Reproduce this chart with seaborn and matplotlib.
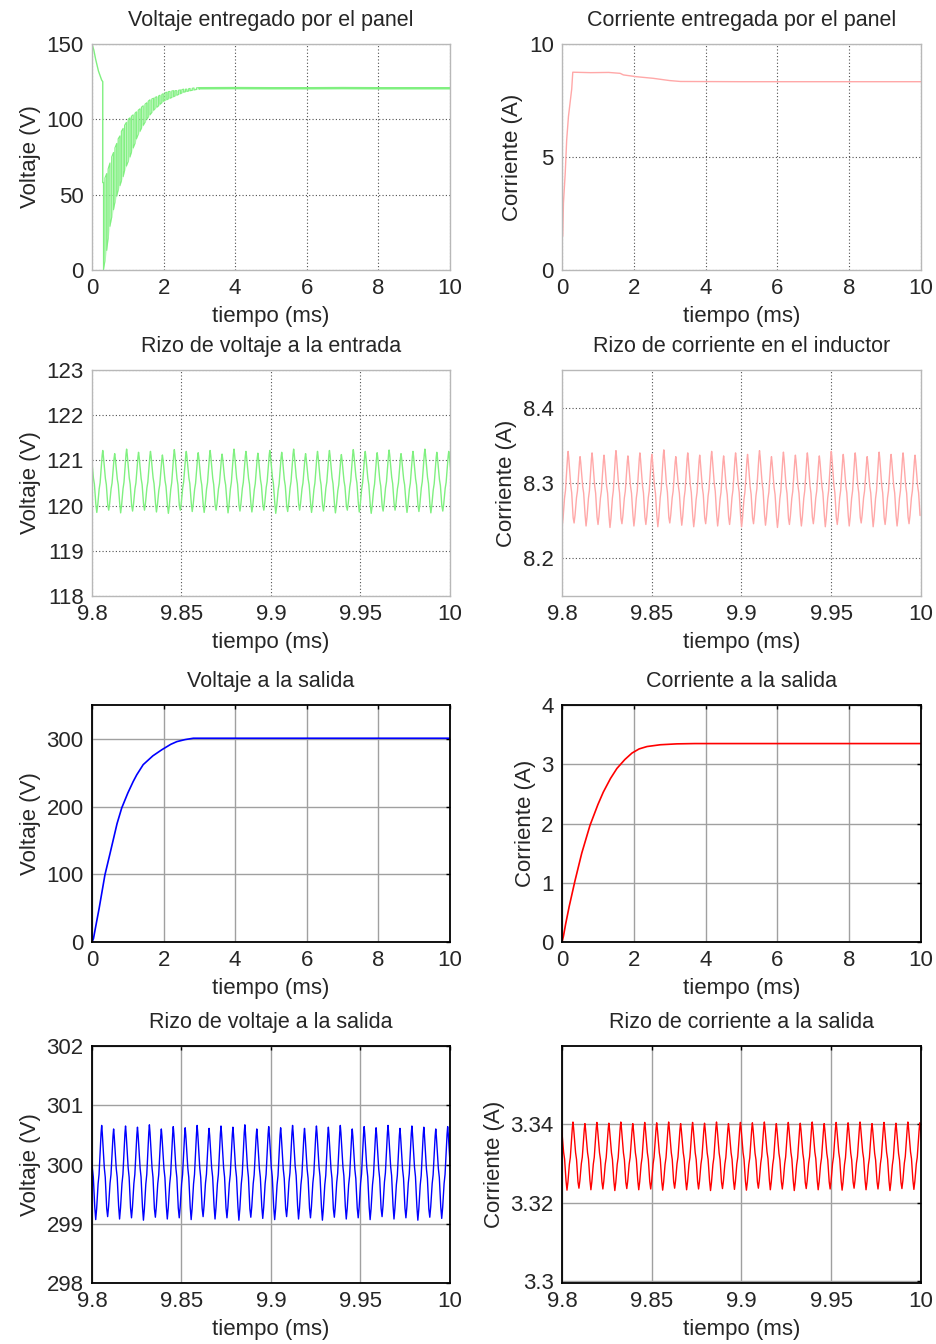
import numpy as np
import matplotlib
matplotlib.use("Agg")
import matplotlib.pyplot as plt
import seaborn as sns

# %% data (time in ms)
# panel voltage, start-up before switching kicks in
pv_start_t = [0.0, 0.0, 0.05, 0.1, 0.18, 0.27, 0.3, 0.3, 0.32]
pv_start_v = [0, 150, 146, 140, 132, 126, 125, 58, 58]
# envelope of the switching transient (upper / lower)
pv_env_t = [0.32, 0.36, 0.41, 0.45, 0.50, 0.55, 0.60, 0.64, 0.69, 0.73, 0.78, 0.82, 0.87, 0.91, 0.96, 1.01,
            1.06, 1.10, 1.15, 1.20, 1.24, 1.29, 1.34, 1.38, 1.43, 1.48, 1.53, 1.57, 1.62, 1.67, 1.72, 1.76,
            1.81, 1.86, 1.90, 1.95, 1.99, 2.04, 2.09, 2.13, 2.18, 2.23, 2.28, 2.32, 2.37, 2.42, 2.47, 2.51,
            2.56, 2.61, 2.65, 2.70, 2.74, 2.80, 2.85, 2.92, 3.0]
pv_env_hi = [58, 61, 64, 67, 71, 75, 78, 81, 84, 87, 89, 92, 94, 96, 98, 100,
             101, 102, 103, 104, 105, 106, 107, 108, 109, 110, 111, 112, 113, 113.5, 114, 114.5,
             115, 115.5, 116, 116.5, 117, 117.5, 118, 118.3, 118.5, 118.8, 119, 119, 119, 119.3, 119.5, 119.7,
             120, 120, 120, 120.3, 120.5, 120.6, 120.8, 120.9, 121]
pv_env_lo = [0, 6, 13, 21, 29, 35, 40, 45, 49, 53, 56, 59, 62, 66, 69, 72,
             75, 78, 81, 84, 87, 90, 92, 94, 96, 98, 100, 101.5, 103, 104.5, 106, 107,
             108, 109, 110, 111, 112, 112.5, 113, 113.5, 114, 114.5, 115, 115.5, 116, 116.5, 117, 117.5,
             118, 118.3, 118.5, 118.8, 119, 119.2, 119.5, 119.8, 120]
pv_steady_t = [3.0, 4.0, 5.0, 6.0, 7.0, 8.0, 9.0, 10.0]
pv_steady_v = [120.6, 120.7, 120.6, 120.6, 120.7, 120.6, 120.6, 120.6]

# panel current
pi_t = [0.0, 0.0, 0.02, 0.04, 0.09, 0.13, 0.18, 0.27, 0.3, 0.8, 1.3, 1.62, 1.71, 2.08, 2.54, 3.0, 3.3, 5.0, 7.0, 10.0]
pi_v = [0.0, 1.5, 1.5, 2.96, 4.3, 5.75, 6.8, 8.0, 8.75, 8.73, 8.74, 8.7, 8.63, 8.55, 8.48, 8.38, 8.34, 8.33, 8.33, 8.33]

# output voltage
vo_t = [0.0, 0.04, 0.1, 0.2, 0.36, 0.5, 0.7, 0.83, 1.0, 1.15, 1.25, 1.43, 1.7, 1.95, 2.2, 2.37, 2.6, 2.83, 3.5, 5.0, 7.0, 10.0]
vo_v = [0, 5, 22, 50, 99, 130, 175, 198, 220, 237, 247, 262, 275, 284, 292, 296, 299, 301, 301, 301, 301, 301]

# output current
io_t = [0.0, 0.04, 0.1, 0.2, 0.36, 0.55, 0.78, 1.0, 1.15, 1.35, 1.53, 1.75, 1.95, 2.15, 2.37, 2.74, 3.2, 3.7, 5.0, 7.0, 10.0]
io_v = [0.0, 0.1, 0.3, 0.6, 1.03, 1.5, 1.97, 2.32, 2.53, 2.76, 2.93, 3.08, 3.19, 3.26, 3.3, 3.33, 3.345, 3.35, 3.35, 3.35, 3.35]

# ripple windows: 30 switching periods in 0.2 ms, one peak/trough per period
n_periods = 30
ripple_window = [9.8, 10.0]
# one period of the ripple shape (fraction of period, fraction trough->peak)
ripple_phase = [0.0, 0.08, 0.2, 0.28, 0.45, 0.5, 0.55, 0.72, 0.8, 0.92]
ripple_level = [0.0, 0.12, 0.38, 0.48, 0.92, 1.0, 0.92, 0.55, 0.45, 0.12]

vin_first_peak = 9.806
vin_hi = [121.2, 121.22, 121.15, 121.25, 121.18, 121.2, 121.12, 121.24, 121.2, 121.17, 121.22, 121.14, 121.25,
          121.2, 121.16, 121.22, 121.18, 121.25, 121.15, 121.2, 121.22, 121.13, 121.24, 121.2, 121.17, 121.23,
          121.15, 121.2, 121.25, 121.18, 121.2]
vin_lo = [119.88, 119.85, 119.9, 119.84, 119.88, 119.9, 119.86, 119.83, 119.9, 119.87, 119.85, 119.9, 119.84,
          119.88, 119.86, 119.9, 119.83, 119.87, 119.9, 119.85, 119.88, 119.84, 119.9, 119.86, 119.83, 119.88,
          119.9, 119.85, 119.87, 119.84, 119.88]

il_first_peak = 9.8034
il_hi = [8.338, 8.342, 8.335, 8.34, 8.337, 8.343, 8.336, 8.34, 8.338, 8.344, 8.335, 8.34, 8.337, 8.342,
         8.336, 8.34, 8.338, 8.343, 8.335, 8.341, 8.337, 8.34, 8.336, 8.342, 8.338, 8.34, 8.335, 8.341,
         8.338, 8.34, 8.337]
il_lo = [8.245, 8.242, 8.247, 8.243, 8.245, 8.241, 8.246, 8.243, 8.245, 8.242, 8.247, 8.244, 8.242, 8.246,
         8.243, 8.245, 8.242, 8.246, 8.244, 8.241, 8.245, 8.243, 8.246, 8.242, 8.245, 8.243, 8.247, 8.242,
         8.245, 8.243, 8.246]

vo_first_peak = 9.8054
vo_hi = [300.62, 300.66, 300.6, 300.65, 300.63, 300.67, 300.6, 300.64, 300.62, 300.66, 300.61, 300.65,
         300.63, 300.67, 300.6, 300.64, 300.62, 300.66, 300.61, 300.65, 300.63, 300.66, 300.6, 300.64,
         300.62, 300.66, 300.61, 300.65, 300.63, 300.6, 300.64]
vo_lo = [299.1, 299.07, 299.12, 299.08, 299.1, 299.06, 299.11, 299.08, 299.1, 299.07, 299.12, 299.08,
         299.1, 299.06, 299.11, 299.09, 299.07, 299.12, 299.08, 299.1, 299.06, 299.11, 299.08, 299.1,
         299.07, 299.12, 299.08, 299.1, 299.06, 299.11, 299.09]

io_first_peak = 9.8061
io_hi = [3.3404, 3.3406, 3.3402, 3.3405, 3.3403, 3.3406, 3.3402, 3.3405, 3.3404, 3.3406, 3.3402, 3.3405,
         3.3403, 3.3406, 3.3402, 3.3405, 3.3404, 3.3406, 3.3402, 3.3405, 3.3403, 3.3406, 3.3402, 3.3405,
         3.3404, 3.3406, 3.3402, 3.3405, 3.3403, 3.3406, 3.3404]
io_lo = [3.3236, 3.3232, 3.3237, 3.3233, 3.3235, 3.3231, 3.3236, 3.3233, 3.3235, 3.3232, 3.3237, 3.3233,
         3.3235, 3.3231, 3.3236, 3.3234, 3.3232, 3.3237, 3.3233, 3.3235, 3.3231, 3.3236, 3.3233, 3.3235,
         3.3232, 3.3237, 3.3233, 3.3235, 3.3231, 3.3236, 3.3234]

titles = ["Voltaje entregado por el panel", "Corriente entregada por el panel",
          "Rizo de voltaje a la entrada", "Rizo de corriente en el inductor",
          "Voltaje a la salida", "Corriente a la salida",
          "Rizo de voltaje a la salida", "Rizo de corriente a la salida"]
ripple_ticks = [9.8, 9.85, 9.9, 9.95, 10]
ripple_ticklabels = ["9.8", "9.85", "9.9", "9.95", "10"]

GREEN = "#80f080"
PINK = "#ffa8a8"
BLUE = "#0000ff"
RED = "#ff0000"


# %% helpers
def ripple_wave(hi, lo, first_peak):
    period = (ripple_window[1] - ripple_window[0]) / n_periods
    start = first_peak - 1.5 * period
    t, v = [], []
    for k, (h, l) in enumerate(zip(hi, lo)):
        for ph, lv in zip(ripple_phase, ripple_level):
            t.append(start + (k + ph) * period)
            v.append(l + lv * (h - l))
    return t, v


def envelope_zigzag(times, hi, lo):
    t, v = [], []
    for i, (tt, h, l) in enumerate(zip(times, hi, lo)):
        t += [tt, tt]
        v += [h, l] if i % 2 == 0 else [l, h]
    return t, v


def line(ax, t, v, color, lw=1.0):
    sns.lineplot(x=t, y=v, sort=False, estimator=None, color=color, linewidth=lw, ax=ax)


def style_axes(ax, old_style):
    ax.set_axisbelow(True)
    if old_style:
        for s in ax.spines.values():
            s.set_color("#b8b8b8")
            s.set_linewidth(1.0)
        ax.grid(True, linestyle=(0, (1, 2)), color="#505050", linewidth=0.8)
        ax.tick_params(length=0, pad=6)
    else:
        for s in ax.spines.values():
            s.set_color("black")
            s.set_linewidth(1.3)
        ax.grid(True, linestyle="-", color="#a0a0a0", linewidth=1.0)
        ax.tick_params(direction="in", length=3, width=1, top=True, right=True, pad=6, color="black")


# %% figure
sns.set_theme(style="white")
plt.rcParams["font.family"] = ["Liberation Sans", "DejaVu Sans"]
plt.rcParams["xtick.labelsize"] = 16
plt.rcParams["ytick.labelsize"] = 16

fig = plt.figure(figsize=(9.37, 13.44), dpi=100)
col_left = [0.0982, 0.5998]
col_w = [0.382, 0.383]
rows = [(0.7991, 0.1682), (0.5565, 0.1682), (0.2991, 0.1763), (0.0454, 0.1763)]
axes = []
for r, (b, h) in enumerate(rows):
    for c in range(2):
        axes.append(fig.add_axes([col_left[c], b, col_w[c], h]))

# row 1: panel
ax = axes[0]
ax.fill_between(pv_env_t, pv_env_lo, pv_env_hi, color=GREEN, alpha=0.3, linewidth=0)
line(ax, pv_start_t, pv_start_v, GREEN)
zt, zv = envelope_zigzag(pv_env_t, pv_env_hi, pv_env_lo)
line(ax, zt, zv, GREEN, 0.8)
line(ax, pv_steady_t, pv_steady_v, GREEN, 1.8)
ax.set_xlim(0, 10)
ax.set_ylim(0, 150)
ax.set_yticks([0, 50, 100, 150])
ax.set_ylabel("Voltaje (V)")

ax = axes[1]
line(ax, pi_t, pi_v, PINK)
ax.set_xlim(0, 10)
ax.set_ylim(0, 10)
ax.set_yticks([0, 5, 10])
ax.set_ylabel("Corriente (A)")

# row 2: input ripple
ax = axes[2]
t, v = ripple_wave(vin_hi, vin_lo, vin_first_peak)
line(ax, t, v, GREEN)
ax.set_ylim(118, 123)
ax.set_yticks([118, 119, 120, 121, 122, 123])
ax.set_ylabel("Voltaje (V)")

ax = axes[3]
t, v = ripple_wave(il_hi, il_lo, il_first_peak)
line(ax, t, v, PINK)
ax.set_ylim(8.15, 8.45)
ax.set_yticks([8.2, 8.3, 8.4])
ax.set_yticklabels(["8.2", "8.3", "8.4"])
ax.set_ylabel("Corriente (A)")

# row 3: output
ax = axes[4]
line(ax, vo_t, vo_v, BLUE, 1.2)
ax.set_xlim(0, 10)
ax.set_ylim(0, 350)
ax.set_yticks([0, 100, 200, 300])
ax.set_ylabel("Voltaje (V)")

ax = axes[5]
line(ax, io_t, io_v, RED, 1.2)
ax.set_xlim(0, 10)
ax.set_ylim(0, 4)
ax.set_yticks([0, 1, 2, 3, 4])
ax.set_ylabel("Corriente (A)")

# row 4: output ripple
ax = axes[6]
t, v = ripple_wave(vo_hi, vo_lo, vo_first_peak)
line(ax, t, v, BLUE)
ax.set_ylim(298, 302)
ax.set_yticks([298, 299, 300, 301, 302])
ax.set_ylabel("Voltaje (V)")

ax = axes[7]
t, v = ripple_wave(io_hi, io_lo, io_first_peak)
line(ax, t, v, RED)
ax.set_ylim(3.2995, 3.36)
ax.set_yticks([3.3, 3.32, 3.34])
ax.set_yticklabels(["3.3", "3.32", "3.34"])
ax.set_ylabel("Corriente (A)")

for i, ax in enumerate(axes):
    row = i // 2
    if row in (0, 2):
        ax.set_xticks([0, 2, 4, 6, 8, 10])
    else:
        ax.set_xlim(*ripple_window)
        ax.set_xticks(ripple_ticks)
        ax.set_xticklabels(ripple_ticklabels)
    ax.set_xlabel("tiempo (ms)", fontsize=16, labelpad=5)
    ax.yaxis.label.set_size(16)
    ax.set_title(titles[i], fontsize=15.5, pad=13)
    style_axes(ax, old_style=row < 2)

fig.savefig("out.png", dpi=100)
